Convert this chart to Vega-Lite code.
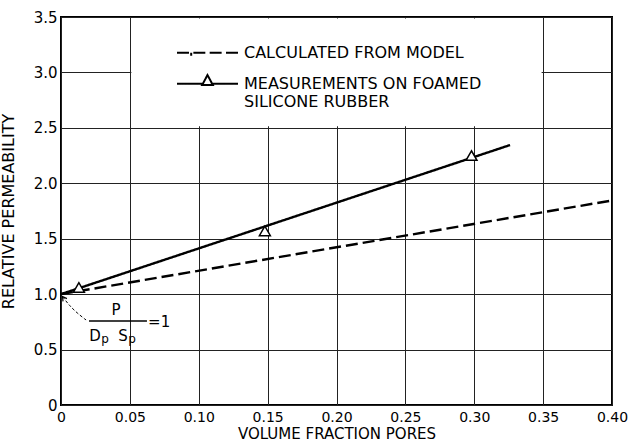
{
  "$schema": "https://vega.github.io/schema/vega-lite/v6.json",
  "width": 551,
  "height": 388,
  "autosize": {"type": "none"},
  "padding": {"left": 61, "top": 17, "right": 19, "bottom": 37},
  "background": "white",
  "config": {
    "font": "DejaVu Sans",
    "view": {"stroke": "black", "strokeWidth": 2},
    "axis": {
      "grid": true,
      "gridColor": "#222222",
      "gridWidth": 1,
      "gridOpacity": 1,
      "domain": false,
      "ticks": false,
      "labelColor": "black",
      "labelFont": "DejaVu Sans",
      "labelFontSize": 14,
      "labelFlush": false,
      "labelOverlap": false,
      "titleColor": "black",
      "titleFont": "DejaVu Sans",
      "titleFontSize": 15,
      "titleFontWeight": "normal"
    }
  },
  "datasets": {
    "lines": [
      {"series": "CALCULATED FROM MODEL", "fraction": 0.0, "perm": 1.0},
      {"series": "CALCULATED FROM MODEL", "fraction": 0.40, "perm": 1.845},
      {"series": "MEASUREMENTS ON FOAMED SILICONE RUBBER", "fraction": 0.0, "perm": 1.0},
      {"series": "MEASUREMENTS ON FOAMED SILICONE RUBBER", "fraction": 0.326, "perm": 2.345}
    ],
    "measured": [
      {"fraction": 0.013, "perm": 1.06},
      {"fraction": 0.148, "perm": 1.57},
      {"fraction": 0.298, "perm": 2.25}
    ],
    "arrow": [
      {"i": 0, "fraction": 0.0182, "perm": 0.767},
      {"i": 1, "fraction": 0.0116, "perm": 0.83},
      {"i": 2, "fraction": 0.0058, "perm": 0.902},
      {"i": 3, "fraction": 0.0025, "perm": 0.956},
      {"i": 4, "fraction": 0.0011, "perm": 0.979}
    ]
  },
  "layer": [
    {
      "data": {"values": [{}]},
      "mark": {"type": "rect", "fill": "white", "xOffset": 1.5, "x2Offset": -1.5, "yOffset": -1.5, "y2Offset": 1.5},
      "encoding": {
        "x": {"datum": 0.05, "type": "quantitative"},
        "x2": {"datum": 0.35},
        "y": {"datum": 2.5, "type": "quantitative"},
        "y2": {"datum": 3.5}
      }
    },
    {
      "data": {"name": "lines"},
      "mark": {"type": "line", "color": "black", "strokeWidth": 2.4},
      "encoding": {
        "x": {
          "field": "fraction", "type": "quantitative",
          "scale": {"domain": [0, 0.4], "nice": false},
          "axis": {
            "title": "VOLUME FRACTION PORES",
            "values": [0, 0.05, 0.1, 0.15, 0.2, 0.25, 0.3, 0.35, 0.4],
            "labelExpr": "datum.value == 0 ? '0' : format(datum.value, '.2f')",
            "labelPadding": 5,
            "titleY": 33,
            "titleBaseline": "alphabetic"
          }
        },
        "y": {
          "field": "perm", "type": "quantitative",
          "scale": {"domain": [0, 3.5], "nice": false},
          "axis": {
            "title": "RELATIVE PERMEABILITY",
            "values": [0, 0.5, 1, 1.5, 2, 2.5, 3, 3.5],
            "labelExpr": "datum.value == 0 ? '0' : format(datum.value, '.1f')",
            "labelPadding": 4,
            "labelFontSize": 15,
            "titleFontSize": 16,
            "titleX": -48,
            "titleBaseline": "alphabetic"
          }
        },
        "strokeDash": {
          "field": "series", "type": "nominal",
          "scale": {
            "domain": ["CALCULATED FROM MODEL", "MEASUREMENTS ON FOAMED SILICONE RUBBER"],
            "range": [[12, 5], [1, 0]]
          },
          "legend": {
            "orient": "none",
            "legendX": 138.5,
            "legendY": 27.7,
            "title": null,
            "padding": 0,
            "symbolSize": 196,
            "symbolStrokeWidth": 2,
            "symbolStrokeColor": "black",
            "symbolFillColor": "white",
            "labelFont": "DejaVu Sans",
            "labelFontSize": 16,
            "labelColor": "black",
            "labelOffset": 28.5,
            "labelLimit": 500,
            "rowPadding": 10,
            "labelExpr": "datum.label == 'CALCULATED FROM MODEL' ? datum.label : ['MEASUREMENTS ON FOAMED', 'SILICONE RUBBER']",
            "encode": {
              "symbols": {
                "update": {
                  "shape": {"signal": "datum.value == 'CALCULATED FROM MODEL' ? 'M-4.36,0H-2.64M-2.02,0H-0.31M0.31,0H2.02M2.64,0H4.36M-2.33,0V0.45' : 'M-4.36,0H-0.76M0.76,0H4.36M-0.76,0.19L0,-1.24L0.76,0.19Z'"},
                  "strokeDash": {"value": [1, 0]},
                  "fill": {"value": "white"},
                  "stroke": {"value": "black"}
                }
              }
            }
          }
        }
      }
    },
    {
      "data": {"name": "measured"},
      "mark": {"type": "point", "shape": "triangle-up", "size": 120, "filled": true, "fill": "white", "stroke": "black", "strokeWidth": 1.5, "opacity": 1},
      "encoding": {
        "x": {"field": "fraction", "type": "quantitative"},
        "y": {"field": "perm", "type": "quantitative"}
      }
    },
    {
      "data": {"name": "arrow"},
      "mark": {"type": "line", "color": "black", "strokeWidth": 1, "strokeDash": [3, 2], "interpolate": "basis"},
      "encoding": {
        "x": {"field": "fraction", "type": "quantitative"},
        "y": {"field": "perm", "type": "quantitative"},
        "order": {"field": "i", "type": "quantitative"}
      }
    },
    {
      "data": {"values": [{}]},
      "mark": {"type": "point", "shape": "M-0.5,0.9L0,0L0.5,0.9", "size": 90, "filled": false, "stroke": "black", "strokeWidth": 1.2, "angle": 325, "opacity": 1},
      "encoding": {
        "x": {"datum": 0.0011, "type": "quantitative"},
        "y": {"datum": 0.979, "type": "quantitative"}
      }
    },
    {
      "data": {"values": [{}]},
      "mark": {"type": "rule", "color": "black", "strokeWidth": 1.5},
      "encoding": {
        "x": {"datum": 0.0203, "type": "quantitative"},
        "x2": {"datum": 0.0624},
        "y": {"datum": 0.758, "type": "quantitative"}
      }
    },
    {
      "data": {"values": [{}]},
      "mark": {"type": "text", "text": "P", "fontSize": 15, "align": "center", "baseline": "alphabetic", "color": "black"},
      "encoding": {
        "x": {"datum": 0.040, "type": "quantitative"},
        "y": {"datum": 0.812, "type": "quantitative"}
      }
    },
    {
      "data": {"values": [{}]},
      "mark": {"type": "text", "text": "=1", "fontSize": 15, "align": "left", "baseline": "middle", "color": "black"},
      "encoding": {
        "x": {"datum": 0.0632, "type": "quantitative"},
        "y": {"datum": 0.75, "type": "quantitative"}
      }
    },
    {
      "data": {"values": [{}]},
      "mark": {"type": "text", "text": "D", "fontSize": 15, "align": "center", "baseline": "alphabetic", "color": "black"},
      "encoding": {
        "x": {"datum": 0.0247, "type": "quantitative"},
        "y": {"datum": 0.577, "type": "quantitative"}
      }
    },
    {
      "data": {"values": [{}]},
      "mark": {"type": "text", "text": "p", "fontSize": 12, "align": "center", "baseline": "alphabetic", "color": "black"},
      "encoding": {
        "x": {"datum": 0.032, "type": "quantitative"},
        "y": {"datum": 0.562, "type": "quantitative"}
      }
    },
    {
      "data": {"values": [{}]},
      "mark": {"type": "text", "text": "S", "fontSize": 15, "align": "center", "baseline": "alphabetic", "color": "black"},
      "encoding": {
        "x": {"datum": 0.045, "type": "quantitative"},
        "y": {"datum": 0.577, "type": "quantitative"}
      }
    },
    {
      "data": {"values": [{}]},
      "mark": {"type": "text", "text": "p", "fontSize": 12, "align": "center", "baseline": "alphabetic", "color": "black"},
      "encoding": {
        "x": {"datum": 0.0515, "type": "quantitative"},
        "y": {"datum": 0.562, "type": "quantitative"}
      }
    }
  ]
}
